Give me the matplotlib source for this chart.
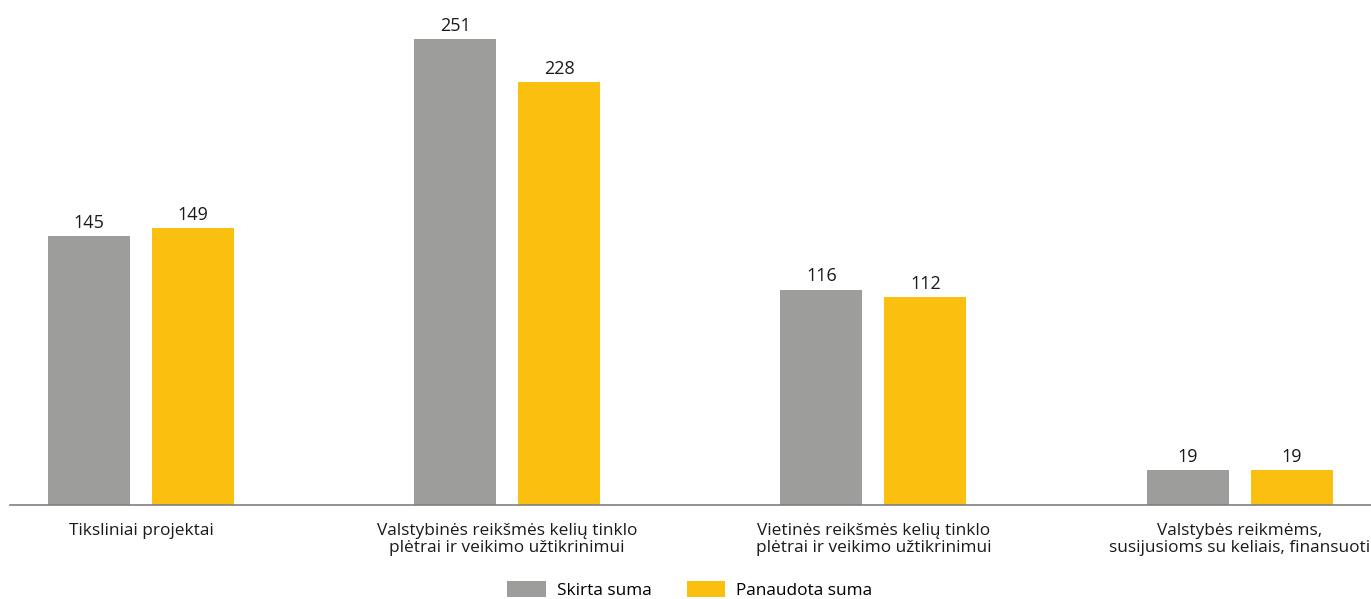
import matplotlib.pyplot as plt
import numpy as np

plt.rcParams['font.family'] = ['Open Sans', 'DejaVu Sans']

# Datos
categorias = ['Tiksliniai projektai',
              'Valstybinės reikšmės kelių tinklo\nplėtrai ir veikimo užtikrinimui',
              'Vietinės reikšmės kelių tinklo\nplėtrai ir veikimo užtikrinimui',
              'Valstybės reikmėms,\nsusijusioms su keliais, finansuoti']
skirta = [145, 251, 116, 19]
panaudota = [149, 228, 112, 19]

gris = '#9d9d9c'
amarillo = '#fbbf0f'
fs = 12.7

fig = plt.figure(figsize=(13.71, 5.99), dpi=100)
ax = fig.add_axes([10 / 1371, 94 / 599, 1 - 10 / 1371, 1 - 94 / 599])

x = np.arange(len(categorias))
w = 0.224
b1 = ax.bar(x - 0.142, skirta, w, color=gris, label='Skirta suma')
b2 = ax.bar(x + 0.142, panaudota, w, color=amarillo, label='Panaudota suma')

for bars, vals in [(b1, skirta), (b2, panaudota)]:
    for bar, v in zip(bars, vals):
        ax.annotate(str(v), (bar.get_x() + bar.get_width() / 2, v),
                    xytext=(0, 3), textcoords='offset points',
                    ha='center', va='bottom', fontsize=13, color='#1a1a1a')

ax.set_xlim(-0.358, 3.359)
ax.set_ylim(0, 272)
ax.set_xticks(x)
ax.set_xticklabels(categorias, fontsize=12.4, color='#1a1a1a', linespacing=1.05)
ax.tick_params(axis='x', length=0, pad=13)
ax.set_yticks([])
for s in ['top', 'right', 'left']:
    ax.spines[s].set_visible(False)
ax.spines['bottom'].set_color('#7f7f7f')
ax.spines['bottom'].set_linewidth(1.2)

fig.legend(loc='center', bbox_to_anchor=(690 / 1371, 1 - 590 / 599), ncol=2,
           frameon=False, fontsize=12.4, handlelength=2.25, handleheight=1.05,
           columnspacing=2.0, handletextpad=0.65, borderpad=0.0)

plt.savefig('out.png', dpi=100)
